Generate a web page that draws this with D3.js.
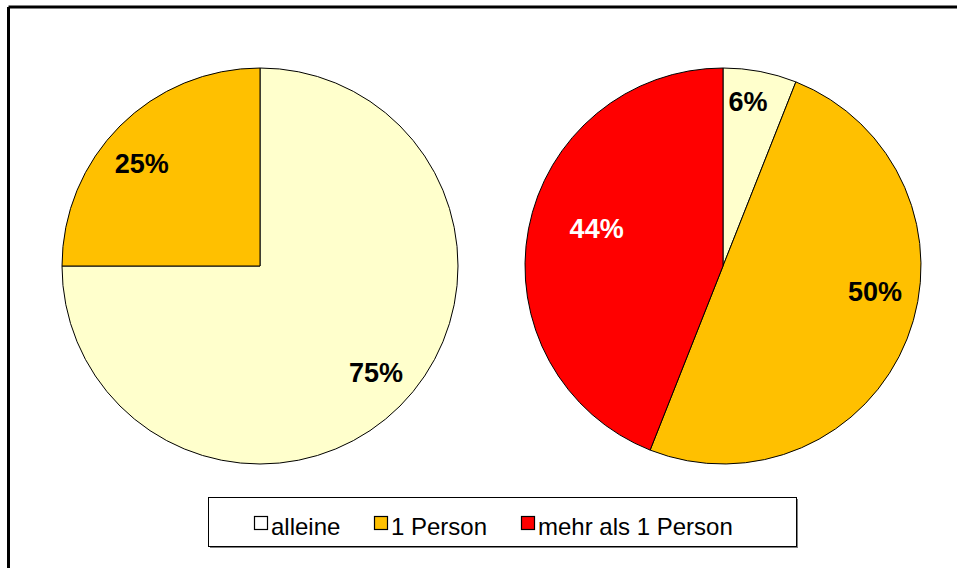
<!DOCTYPE html>
<html><head><meta charset="utf-8">
<script src="https://cdn.jsdelivr.net/npm/d3@7"></script>
<style>body{margin:0;background:#fff;}svg{display:block;font-family:"Liberation Sans",Arial,sans-serif;}</style>
</head><body>
<svg id="c" width="957" height="568"></svg>
<script>
const categories = ["alleine", "1 Person", "mehr als 1 Person"];
const colors = ["#FFFFCC", "#FFC000", "#FF0000"];
const pieLeft = [75, 25, 0];
const pieRight = [6, 50, 44];
const labelColors = ["#000000", "#000000", "#FFFFFF"];

const svg = d3.select("#c");
// frame (top + left only visible)
svg.append("line").attr("x1",8.5).attr("y1",7).attr("x2",957).attr("y2",7).attr("stroke","#000").attr("stroke-width",3);
svg.append("line").attr("x1",8.5).attr("y1",7).attr("x2",8.5).attr("y2",568).attr("stroke","#000").attr("stroke-width",3);

const R = 198;
const pie = d3.pie().sort(null).value(d=>d);
const arc = d3.arc().innerRadius(0).outerRadius(R);

// label layout: [radius, angle in degrees] per slice
function drawPie(values, cx, cy, labelPos){
  const g = svg.append("g").attr("transform",`translate(${cx},${cy})`);
  const arcs = pie(values);
  g.selectAll("path").data(arcs.filter(a=>a.value>0)).join("path")
    .attr("d",arc).attr("fill",d=>colors[d.index])
    .attr("stroke","#000").attr("stroke-width",1).attr("stroke-linejoin","round");
  g.selectAll("text").data(arcs.filter(a=>a.value>0)).join("text")
    .attr("transform",d=>{
      const [r, deg] = labelPos[d.index];
      const a = deg*Math.PI/180;
      return `translate(${r*Math.sin(a)},${-r*Math.cos(a)})`;
    })
    .attr("text-anchor","middle").attr("dy","0.36em")
    .attr("font-size",27).attr("font-weight","bold")
    .attr("fill",d=>labelColors[d.index])
    .text(d=>d.value+"%");
}
drawPie(pieLeft, 260, 266, [[157,132.4],[157,311.1],[0,0]]);
drawPie(pieRight, 723, 266, [[167,8.6],[154,99.3],[132,286.8]]);

// legend
const lg = svg.append("g");
lg.append("rect").attr("x",210).attr("y",499).attr("width",588).attr("height",49).attr("fill","#808080");
lg.append("rect").attr("x",208.5).attr("y",497.5).attr("width",588).attr("height",49).attr("fill","#fff").attr("stroke","#000").attr("stroke-width",1);
const itemX = [254, 374, 521];
categories.forEach((c,i)=>{
  lg.append("rect").attr("x",itemX[i]+0.5).attr("y",516.5).attr("width",13).attr("height",13)
    .attr("fill", i===0 ? "#FFFFFF" : colors[i]).attr("stroke","#000").attr("stroke-width",1.2);
  lg.append("text").attr("x",itemX[i]+17).attr("y",535).attr("font-size",24).attr("fill","#000").text(c);
});
</script>
</body></html>
